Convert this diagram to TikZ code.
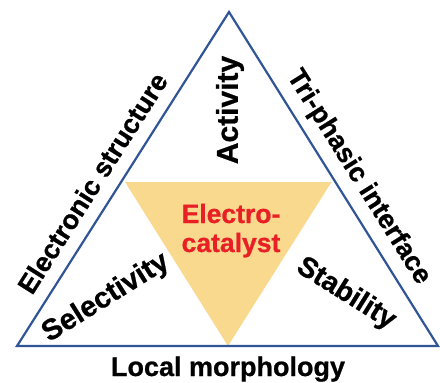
\documentclass[tikz,border=0pt]{standalone}
\usepackage{fontspec}
\setmainfont{Liberation Sans}
\newfontfamily\heavyfont[FakeBold=0.8]{Liberation Sans Bold}
\definecolor{edgeblue}{RGB}{47,85,151}
\definecolor{coreyellow}{RGB}{249,217,141}
\definecolor{corered}{RGB}{232,32,38}
\begin{document}
\begin{tikzpicture}[x=1pt,y=-1pt,
  lbl/.style={font=\heavyfont\fontsize{27}{30}\selectfont, inner sep=0pt, text=black},
  corelbl/.style={font=\heavyfont\fontsize{26.5}{29}\selectfont, inner sep=0pt, text=corered},
  outline/.style={draw=edgeblue, line width=2.2pt, line join=miter}]
\useasboundingbox (0,0) rectangle (440,383);
\coordinate (A) at (229,12);
\coordinate (B) at (17,346);
\coordinate (C) at (438,346);
\coordinate (P) at (125,182);
\coordinate (Q) at (331.5,182);
\coordinate (R) at (228,346);
\fill[coreyellow] (P) -- (Q) -- (R) -- cycle;
\draw[outline] (A) -- (B) -- (C) -- cycle;
\node[lbl, anchor=base, rotate=57.6] (es) at (100.6,188.2) {Electronic structure};
\node[lbl, anchor=base, rotate=-57.9] (ti) at (352.5,181.0) {Tri-phasic interface};
\node[lbl, font=\heavyfont\fontsize{30}{33}\selectfont, rotate=90] (ac) at (230,110) {Activity};
\node[lbl, font=\heavyfont\fontsize{29}{32}\selectfont, rotate=32] (se) at (106,298) {Selectivity};
\node[lbl, font=\heavyfont\fontsize{28.5}{32}\selectfont, rotate=-32] (st) at (346,294) {Stability};
\node[lbl, anchor=base] (lm) at (228,376) {Local morphology};
\node[corelbl, anchor=base] (ec1) at (231,223) {Electro-};
\node[corelbl, anchor=base] (ec2) at (231,252) {catalyst};
\end{tikzpicture}
\end{document}
